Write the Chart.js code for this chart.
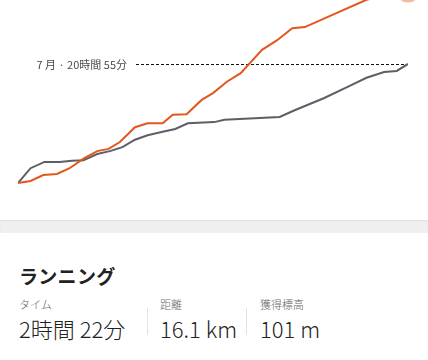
<!DOCTYPE html>
<html lang="ja">
<head>
<meta charset="utf-8">
<script src="https://cdn.jsdelivr.net/npm/chart.js@4"></script>
<style>
    html, body { margin: 0; padding: 0; background: #fff; }
    body { width: 428px; height: 360px; overflow: hidden; font-family: 'Noto Sans CJK JP', 'Noto Sans', sans-serif; color: #222; }
    .chart-box { position: relative; width: 428px; height: 220px; }
    .band { height: 13px; background: #efeff1; box-shadow: inset 0 1px 2px rgba(0,0,0,0.06); }
    .title { position: absolute; left: 19px; top: 262px; font-size: 19px; font-weight: 700; letter-spacing: 0.3px; }
    .stat { position: absolute; top: 296px; }
    .stat .lbl { font-size: 11px; color: #666; line-height: 16px; font-weight: 300; }
    .stat .val { font-size: 22px; color: #222; line-height: 26px; margin-top: 3px; font-weight: 300; }
    .sep { position: absolute; top: 308px; width: 1px; height: 27px; background: #e2e2e4; }
</style>
</head>
<body>
<div class="chart-box"><canvas id="chart"></canvas></div>
<div class="band"></div>
<div class="title">ランニング</div>
<div class="stat" style="left:19px"><div class="lbl">タイム</div><div class="val">2時間 22分</div></div>
<div class="sep" style="left:147px"></div>
<div class="stat" style="left:160px"><div class="lbl">距離</div><div class="val">16.1 km</div></div>
<div class="sep" style="left:246px"></div>
<div class="stat" style="left:260px"><div class="lbl">獲得標高</div><div class="val">101 m</div></div>
<script>
// cumulative hours by day of month
const lastMonthDays  = [0, 1.0, 2.1, 3.3, 4.3, 5.2, 6.3, 7.3, 8.3, 9.3, 10.3, 11.5, 12.5, 13.5, 15.6, 16.4, 20.8, 21.9, 23.0, 24.3, 26.2, 27.7, 29.1, 30.1, 31];
const lastMonthHours = [0, 2.6, 3.7, 3.7, 3.9, 4.0, 5.1, 5.6, 6.3, 7.6, 8.4, 9.0, 9.5, 10.5, 10.7, 11.1, 11.6, 12.7, 13.7, 14.9, 16.9, 18.5, 19.5, 19.7, 20.92];

const thisMonthDays  = [0, 1.0, 2.0, 3.1, 4.1, 5.3, 6.3, 7.2, 8.1, 9.3, 10.3, 11.5, 12.3, 13.4, 14.6, 15.5, 16.6, 17.7, 19.4, 20.6, 21.8, 22.8, 27.7, 31];
const thisMonthHours = [0, 0.35, 1.4, 1.6, 2.6, 4.4, 5.6, 6.0, 7.2, 9.8, 10.5, 10.5, 12.0, 12.1, 14.6, 15.8, 17.8, 19.3, 23.4, 25.1, 27.2, 27.4, 32.2, 34.0];

const lastMonthTotal = 20.92;
const lastMonthLabel = '7 月 · 20時間 55分';

const toPoints = (xs, ys) => xs.map((x, i) => ({ x: x, y: ys[i] }));

const refLine = {
    id: 'refLine',
    beforeDatasetsDraw(chart) {
        const ctx = chart.ctx;
        const y = Math.round(chart.scales.y.getPixelForValue(lastMonthTotal)) + 0.5;
        const xEnd = chart.scales.x.getPixelForValue(31);
        ctx.save();
        ctx.strokeStyle = '#111';
        ctx.lineWidth = 1;
        ctx.setLineDash([3, 2]);
        ctx.beginPath();
        ctx.moveTo(136, y);
        ctx.lineTo(xEnd, y);
        ctx.stroke();
        ctx.setLineDash([]);
        ctx.fillStyle = '#4a4a4a';
        ctx.font = '11px "Noto Sans CJK JP"';
        ctx.textAlign = 'right';
        ctx.textBaseline = 'middle';
        ctx.fillText(lastMonthLabel, 127, y);
        ctx.restore();
    }
};

const lastIdx = thisMonthDays.length - 1;

new Chart(document.getElementById('chart'), {
    type: 'line',
    data: {
        datasets: [
            {
                label: '8月',
                data: toPoints(thisMonthDays, thisMonthHours),
                borderColor: '#e3561d',
                borderWidth: 2,
                tension: 0,
                clip: false,
                pointRadius: thisMonthDays.map((d, i) => i === lastIdx ? 13 : 0),
                pointBackgroundColor: '#f6b8a0',
                pointBorderWidth: 0,
                order: 0
            },
            {
                label: '7月',
                data: toPoints(lastMonthDays, lastMonthHours),
                borderColor: '#5e5e68',
                borderWidth: 2,
                tension: 0,
                pointRadius: 0,
                order: 1
            }
        ]
    },
    options: {
        responsive: true,
        maintainAspectRatio: false,
        animation: false,
        layout: { autoPadding: false, padding: { left: 18, right: 20, top: 0, bottom: 37 } },
        plugins: { legend: { display: false }, tooltip: { enabled: false } },
        scales: {
            x: { type: 'linear', min: 0, max: 31, display: false },
            y: { min: 0, max: 32.16, display: false }
        }
    },
    plugins: [refLine]
});
</script>
</body>
</html>
